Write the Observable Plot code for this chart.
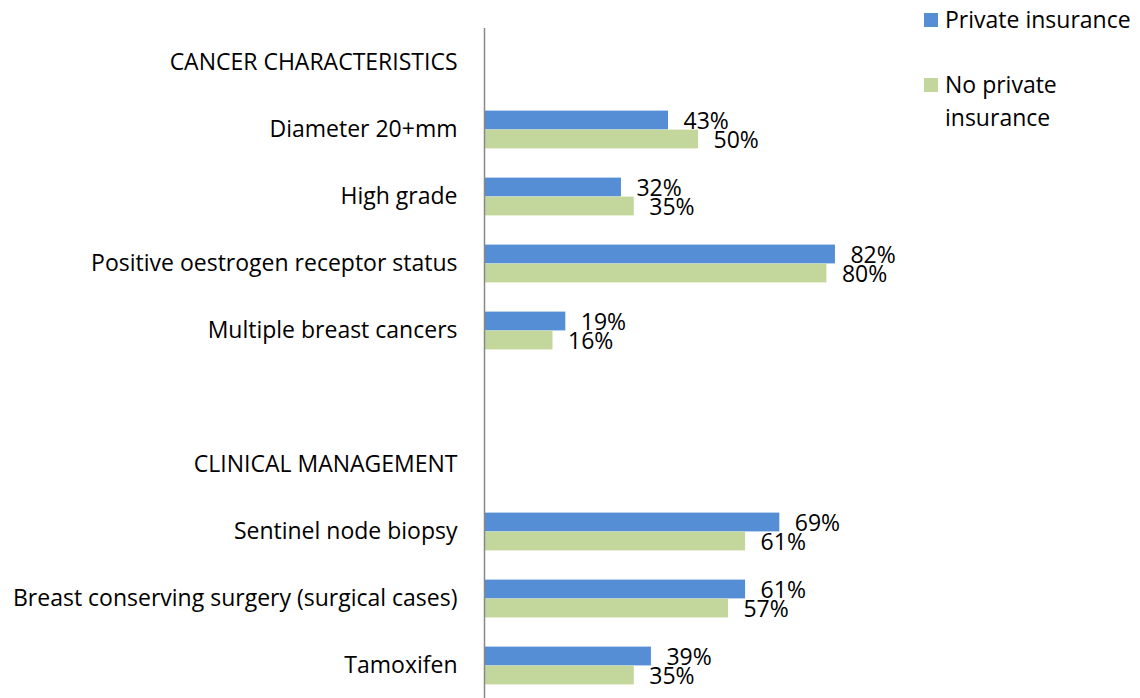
<!DOCTYPE html>
<html>
<head>
<meta charset="utf-8">
<script src="https://cdn.jsdelivr.net/npm/d3@7"></script>
<script src="https://cdn.jsdelivr.net/npm/@observablehq/plot@0.6"></script>
<style>
  html, body { margin: 0; padding: 0; background: #fff; overflow: hidden; }
  #wrap { position: relative; width: 1140px; height: 698px; }
  #chart { position: absolute; left: 0; top: 0; }
  .lg { position: absolute; font-family: "Open Sans", sans-serif; font-size: 23px; color: #000; line-height: 33px; white-space: nowrap; }
  .sw { position: absolute; width: 14px; height: 14px; }
</style>
</head>
<body>
<div id="wrap">
  <div id="chart"></div>
  <div class="sw" style="left:924px;top:13px;background:#558ED5"></div>
  <div class="lg" style="left:945px;top:3px;">Private insurance</div>
  <div class="sw" style="left:924px;top:78px;background:#C3D69B"></div>
  <div class="lg" style="left:945px;top:68px;">No private<br>insurance</div>
</div>
<script>
const categories = [
  "CANCER CHARACTERISTICS",
  "Diameter 20+mm",
  "High grade",
  "Positive oestrogen receptor status",
  "Multiple breast cancers",
  " ",
  "CLINICAL MANAGEMENT",
  "Sentinel node biopsy",
  "Breast conserving surgery (surgical cases)",
  "Tamoxifen"
];
const items = [
  "Diameter 20+mm",
  "High grade",
  "Positive oestrogen receptor status",
  "Multiple breast cancers",
  "Sentinel node biopsy",
  "Breast conserving surgery (surgical cases)",
  "Tamoxifen"
];
const privateInsurance = [43, 32, 82, 19, 69, 61, 39];
const noPrivateInsurance = [50, 35, 80, 16, 61, 57, 35];

const privData = items.map((c, i) => ({cat: c, v: privateInsurance[i]}));
const noPrivData = items.map((c, i) => ({cat: c, v: noPrivateInsurance[i]}));

const H = 700, MT = 28, MB = 0;
const band = (H - MT - MB) / categories.length;
const barH = 19;
const half = band / 2;

const chart = Plot.plot({
  width: 1140,
  height: H,
  marginLeft: 484,
  marginRight: 228,
  marginTop: MT,
  marginBottom: MB,
  style: {fontFamily: "'Open Sans', sans-serif", color: "#000", background: "#fff", overflow: "visible"},
  x: {domain: [0, 100], axis: null},
  y: {domain: categories, padding: 0, label: null},
  marks: [
    Plot.axisY({tickSize: 0, tickPadding: 27, fontSize: 23, label: null, fill: "#000"}),
    Plot.barX(privData, {x: "v", y: "cat", fill: "#558ED5", insetTop: half - barH, insetBottom: half}),
    Plot.barX(noPrivData, {x: "v", y: "cat", fill: "#C3D69B", insetTop: half, insetBottom: half - barH}),
    Plot.ruleX([0], {stroke: "#888", strokeWidth: 1.5}),
    Plot.text(privData, {x: "v", y: "cat", text: d => d.v + "%", textAnchor: "start", dx: 15, dy: -barH / 2 + 1, fontSize: 23, fill: "#000"}),
    Plot.text(noPrivData, {x: "v", y: "cat", text: d => d.v + "%", textAnchor: "start", dx: 15, dy: barH / 2 + 1, fontSize: 23, fill: "#000"})
  ]
});
document.getElementById("chart").appendChild(chart);
</script>
</body>
</html>
